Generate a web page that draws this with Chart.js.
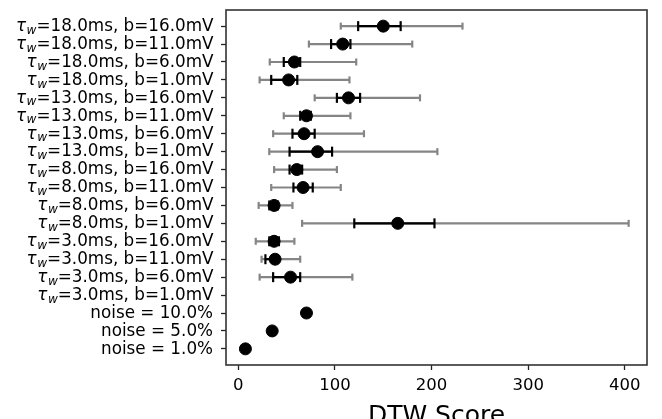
<!DOCTYPE html>
<html>
<head>
<meta charset="utf-8">
<script src="https://cdn.jsdelivr.net/npm/chart.js"></script>
<style>
  html, body { margin: 0; padding: 0; background: #fff; }
  #wrap { width: 662px; height: 419px; }
</style>
</head>
<body>
<div id="wrap"><canvas id="dtwChart"></canvas></div>
<script>
// rows, top to bottom ("_w" is drawn as a subscript)
const categories = [
  "τ_w=18.0ms, b=16.0mV", "τ_w=18.0ms, b=11.0mV", "τ_w=18.0ms, b=6.0mV", "τ_w=18.0ms, b=1.0mV",
  "τ_w=13.0ms, b=16.0mV", "τ_w=13.0ms, b=11.0mV", "τ_w=13.0ms, b=6.0mV", "τ_w=13.0ms, b=1.0mV",
  "τ_w=8.0ms, b=16.0mV", "τ_w=8.0ms, b=11.0mV", "τ_w=8.0ms, b=6.0mV", "τ_w=8.0ms, b=1.0mV",
  "τ_w=3.0ms, b=16.0mV", "τ_w=3.0ms, b=11.0mV", "τ_w=3.0ms, b=6.0mV", "τ_w=3.0ms, b=1.0mV",
  "noise = 10.0%", "noise = 5.0%", "noise = 1.0%"
];

// mean DTW score
const meanScore = [150, 108, 58, 52, 114, 70.5, 68, 82, 60.5, 67, 37, 165, 37, 38, 54, null, 70.5, 35, 7.3];

// full range (grey bars)
const rangeLow  = [106, 73, 32.5, 22, 79, 47, 36, 32, 37, 34, 21, 66, 18, 24, 22, null, null, null, null];
const rangeHigh = [232, 180, 122, 115, 188, 116, 130, 206, 102, 106, 56, 404, 58, 64, 118, null, null, null, null];

// spread around the mean (black bars)
const spreadLow  = [124, 96, 47, 34, 102, 64, 56, 53, 53, 57, 32, 120, 32, 28, 36, null, null, null, null];
const spreadHigh = [168, 116, 64, 61, 126, 75, 79, 97, 66, 77, 41, 203, 42, 41, 64, null, null, null, null];

const xTicks = [0, 100, 200, 300, 400];

const FONT = "DejaVu Sans";

// turn low/high arrays into line segments separated by gaps
function barSegments(lo, hi) {
  const pts = [];
  lo.forEach((l, i) => {
    if (l === null || hi[i] === null) return;
    pts.push({ x: l, y: i }, { x: hi[i], y: i }, { x: null, y: null });
  });
  return pts;
}

const dots = meanScore
  .map((v, i) => (v === null ? null : { x: v, y: i }))
  .filter(p => p !== null);

// frame around the plot area
const framePlugin = {
  id: "frame",
  afterDraw(chart) {
    const { ctx, chartArea: a } = chart;
    ctx.save();
    ctx.strokeStyle = "#333";
    ctx.lineWidth = 1.6;
    ctx.strokeRect(a.left, a.top, a.right - a.left, a.bottom - a.top);
    ctx.restore();
  }
};

// y labels with the subscripted w
const rowLabels = {
  id: "rowLabels",
  afterDraw(chart) {
    const { ctx } = chart;
    const y = chart.scales.y;
    const size = 16.8;
    const xRight = y.right - 13;
    ctx.save();
    ctx.fillStyle = "#000";
    ctx.textBaseline = "middle";
    ctx.textAlign = "left";
    categories.forEach((label, i) => {
      const py = y.getPixelForValue(i) + 0.5;
      let parts;
      if (label.startsWith("τ_w")) {
        parts = [
          { t: "τ", font: `italic ${size}px ${FONT}`, dy: 0 },
          { t: "w", font: `italic ${size * 0.72}px ${FONT}`, dy: 4 },
          { t: label.slice(3), font: `${size}px ${FONT}`, dy: 0 }
        ];
      } else {
        parts = [{ t: label, font: `${size}px ${FONT}`, dy: 0 }];
      }
      let total = 0;
      parts.forEach(p => { ctx.font = p.font; p.w = ctx.measureText(p.t).width; total += p.w; });
      let x = xRight - total;
      parts.forEach(p => {
        ctx.font = p.font;
        ctx.fillText(p.t, x, py + p.dy);
        x += p.w + (p.t === "τ" ? 0.5 : 0);
      });
    });
    ctx.restore();
  }
};

const ctx = document.getElementById("dtwChart").getContext("2d");

new Chart(ctx, {
  type: "scatter",
  data: {
    datasets: [
      {
        type: "line",
        label: "range",
        data: barSegments(rangeLow, rangeHigh),
        borderColor: "#858585",
        borderWidth: 2.2,
        spanGaps: false,
        pointStyle: "line",
        rotation: 90,
        pointRadius: 3.5,
        pointBorderColor: "#858585",
        pointBorderWidth: 2.2,
        order: 3
      },
      {
        type: "line",
        label: "spread",
        data: barSegments(spreadLow, spreadHigh),
        borderColor: "#000000",
        borderWidth: 2.2,
        spanGaps: false,
        pointStyle: "line",
        rotation: 90,
        pointRadius: 5,
        pointBorderColor: "#000000",
        pointBorderWidth: 2.2,
        order: 2
      },
      {
        label: "mean",
        data: dots,
        backgroundColor: "#000000",
        borderColor: "#000000",
        pointRadius: 6,
        pointHoverRadius: 6,
        order: 1
      }
    ]
  },
  options: {
    responsive: true,
    maintainAspectRatio: false,
    animation: false,
    layout: { padding: { left: 0, right: 15, top: 10, bottom: 0 } },
    plugins: {
      legend: { display: false },
      tooltip: { enabled: false }
    },
    scales: {
      x: {
        type: "linear",
        min: -12.8,
        max: 423,
        afterBuildTicks: scale => { scale.ticks = xTicks.map(v => ({ value: v })); },
        afterFit: scale => { scale.height = 54; },
        border: { display: false },
        grid: { drawOnChartArea: false, drawTicks: true, tickLength: 5, tickColor: "#222", tickWidth: 1.3 },
        ticks: { color: "#000", font: { family: FONT, size: 16.5 }, padding: 6 },
        title: {
          display: true,
          text: "DTW Score",
          color: "#000",
          font: { family: FONT, size: 25 },
          padding: { top: 0, bottom: -12 }
        }
      },
      y: {
        type: "linear",
        reverse: true,
        min: -0.9,
        max: categories.length - 1 + 0.9,
        afterBuildTicks: scale => { scale.ticks = categories.map((_, i) => ({ value: i })); },
        afterFit: scale => { scale.width = 226; },
        border: { display: false },
        grid: { drawOnChartArea: false, drawTicks: true, tickLength: 5, tickColor: "#222", tickWidth: 1.3 },
        ticks: { display: false }
      }
    }
  },
  plugins: [framePlugin, rowLabels]
});
</script>
</body>
</html>
